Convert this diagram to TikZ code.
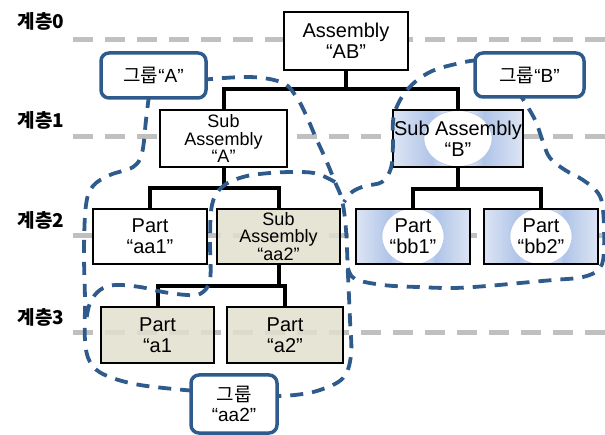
\documentclass[tikz,border=0pt]{standalone}
\usepackage{fontspec}
\setmainfont{Liberation Sans}
\newfontfamily\krfont{Noto Sans CJK KR}
\usetikzlibrary{positioning}
\definecolor{grpblue}{RGB}{46,90,140}
\definecolor{lvlgray}{RGB}{192,192,192}
\definecolor{beige}{RGB}{226,223,204}
\definecolor{bedge}{RGB}{221,229,244}
\definecolor{bmid}{RGB}{176,196,232}
\pgfdeclarehorizontalshading{bpart}{100bp}{color(0bp)=(bedge); color(25bp)=(bedge); color(40bp)=(bmid); color(50bp)=(white); color(60bp)=(bmid); color(75bp)=(bedge); color(100bp)=(bedge)}
\tikzset{
  box/.style={rectangle, draw=black, line width=2.4pt, align=center, inner sep=0pt, font=\fontsize{20}{21}\selectfont},
  whitebox/.style={box, fill=white},
  tanbox/.style={box, fill=beige, fill opacity=0.85, text opacity=1},
  bluebox/.style={box, shade, shading=bpart,
    path picture={\fill[white, draw=bmid, line width=0.6pt] (path picture bounding box.center) ellipse [x radius=#1, y radius=28pt];}},
  tight/.style={font=\fontsize{18}{17.5}\selectfont},
  link/.style={draw=black, line width=4pt},
  lvl/.style={draw=lvlgray, line width=5pt, dash pattern=on 20pt off 12pt},
  lvltxt/.style={font=\fontsize{19}{19}\krfont\bfseries},
  grp/.style={draw=grpblue, line width=3.8pt, dash pattern=on 13pt off 9pt},
  grplbl/.style={rectangle, rounded corners=8pt, draw=grpblue, line width=3.5pt, fill=white,
    align=center, inner sep=0pt, font=\fontsize{19}{20}\selectfont}
}
\begin{document}
\begin{tikzpicture}[x=1pt, y=-1pt]
  \useasboundingbox (0,0) rectangle (605,435);
  % levels
  \node[lvltxt] (lv0) at (41,21) {계층0};
  \node[lvltxt] (lv1) at (41,120) {계층1};
  \node[lvltxt] (lv2) at (41,220) {계층2};
  \node[lvltxt] (lv3) at (41,317) {계층3};
  \coordinate (l0a) at (73,40);  \coordinate (l0b) at (605,40);
  \coordinate (l1a) at (73,137); \coordinate (l1b) at (605,137);
  \coordinate (l2a) at (73,236); \coordinate (l2b) at (605,236);
  \coordinate (l3a) at (73,333); \coordinate (l3b) at (605,333);
  \draw[lvl] (l0a) -- (l0b);
  \draw[lvl] (l1a) -- (l1b);
  \draw[lvl] (l2a) -- (l2b);
  \draw[lvl] (l3a) -- (l3b);
  % parts
  \node[whitebox, minimum width=124pt, minimum height=58pt] (ab) at (346,41) {Assembly\\“AB”};
  \node[whitebox, tight, minimum width=127pt, minimum height=57pt] (subA) at (223.5,138.5) {Sub\\Assembly\\“A”};
  \node[bluebox=34pt, minimum width=130pt, minimum height=57pt] (subB) at (458,138.5) {Sub Assembly\\“B”};
  \node[whitebox, minimum width=114pt, minimum height=55pt] (aa1) at (150,236.5) {Part\\“aa1”};
  \node[tanbox, tight, minimum width=123pt, minimum height=55pt] (aa2) at (278.5,236.5) {Sub\\Assembly\\“aa2”};
  \node[bluebox=31pt, minimum width=114pt, minimum height=55pt] (bb1) at (413,236.5) {Part\\“bb1”};
  \node[bluebox=31pt, minimum width=114pt, minimum height=55pt] (bb2) at (541,236.5) {Part\\“bb2”};
  \node[tanbox, minimum width=113pt, minimum height=56pt] (a1) at (157.5,335) {Part\\“a1};
  \node[tanbox, minimum width=116pt, minimum height=56pt] (a2) at (285,335) {Part\\“a2”};
  % tree
  \draw[link] (ab.south) -- ++(0,18) -| (subA.north);
  \draw[link] (ab.south) -- ++(0,18) -| (subB.north);
  \draw[link] (subA.south) -- ++(0,20) -| (aa1.north);
  \draw[link] (subA.south) -- ++(0,20) -| (aa2.north);
  \draw[link] (aa2.south) -- ++(0,21) -| (a1.north);
  \draw[link] (aa2.south) -- ++(0,21) -| (a2.north);
  \draw[link] (subB.south) -- ++(0,21) -| (bb1.north);
  \draw[link] (subB.south) -- ++(0,21) -| (bb2.north);
  % groups
  \draw[grp] plot[smooth, tension=0.6] coordinates {(200,80) (250,77) (283,83) (297,98) (306,115) (316,138) (326,160) (335,182) (342,200) (346,230) (348,275) (350,320) (351,355) (343,378) (320,390) (295,395) (272,396)};
  \draw[grp] plot[smooth, tension=0.6] coordinates {(149,95) (146,120) (142,153) (133,167) (110,175) (93,186) (86,205) (84,250) (85,300) (85,340) (90,362) (105,375) (140,385) (196,391)};
  \draw[grp] plot[smooth, tension=0.6] coordinates {(335,182) (318,174) (300,172) (270,173) (243,177) (222,187) (212,205) (210,240) (210,280) (200,294) (187,295) (163,292) (140,287) (115,285) (100,290) (90,303) (86,322)};
  \draw[grp] plot[smooth, tension=0.6] coordinates {(478,60) (460,63) (430,72) (407,90) (394,115) (393,145) (391,168) (382,182) (365,186) (352,192) (344,202)};
  \draw[grp] plot[smooth, tension=0.6] coordinates {(348,268) (355,279) (383,285) (417,287) (453,288) (487,286) (520,283) (553,280) (583,277) (600,268) (604,248) (603,210) (598,193) (583,180) (565,170) (550,158) (543,142) (536,122) (526,104) (518,92)};
  \node[grplbl, minimum width=105pt, minimum height=45pt] (gA) at (153.5,75.5) {{\krfont 그룹}“A”};
  \node[grplbl, minimum width=109pt, minimum height=44pt] (gB) at (529.5,75) {{\krfont 그룹}“B”};
  \node[grplbl, minimum width=86pt, minimum height=58pt] (gAA) at (234,404) {{\krfont 그룹}\\“aa2”};
\end{tikzpicture}
\end{document}
